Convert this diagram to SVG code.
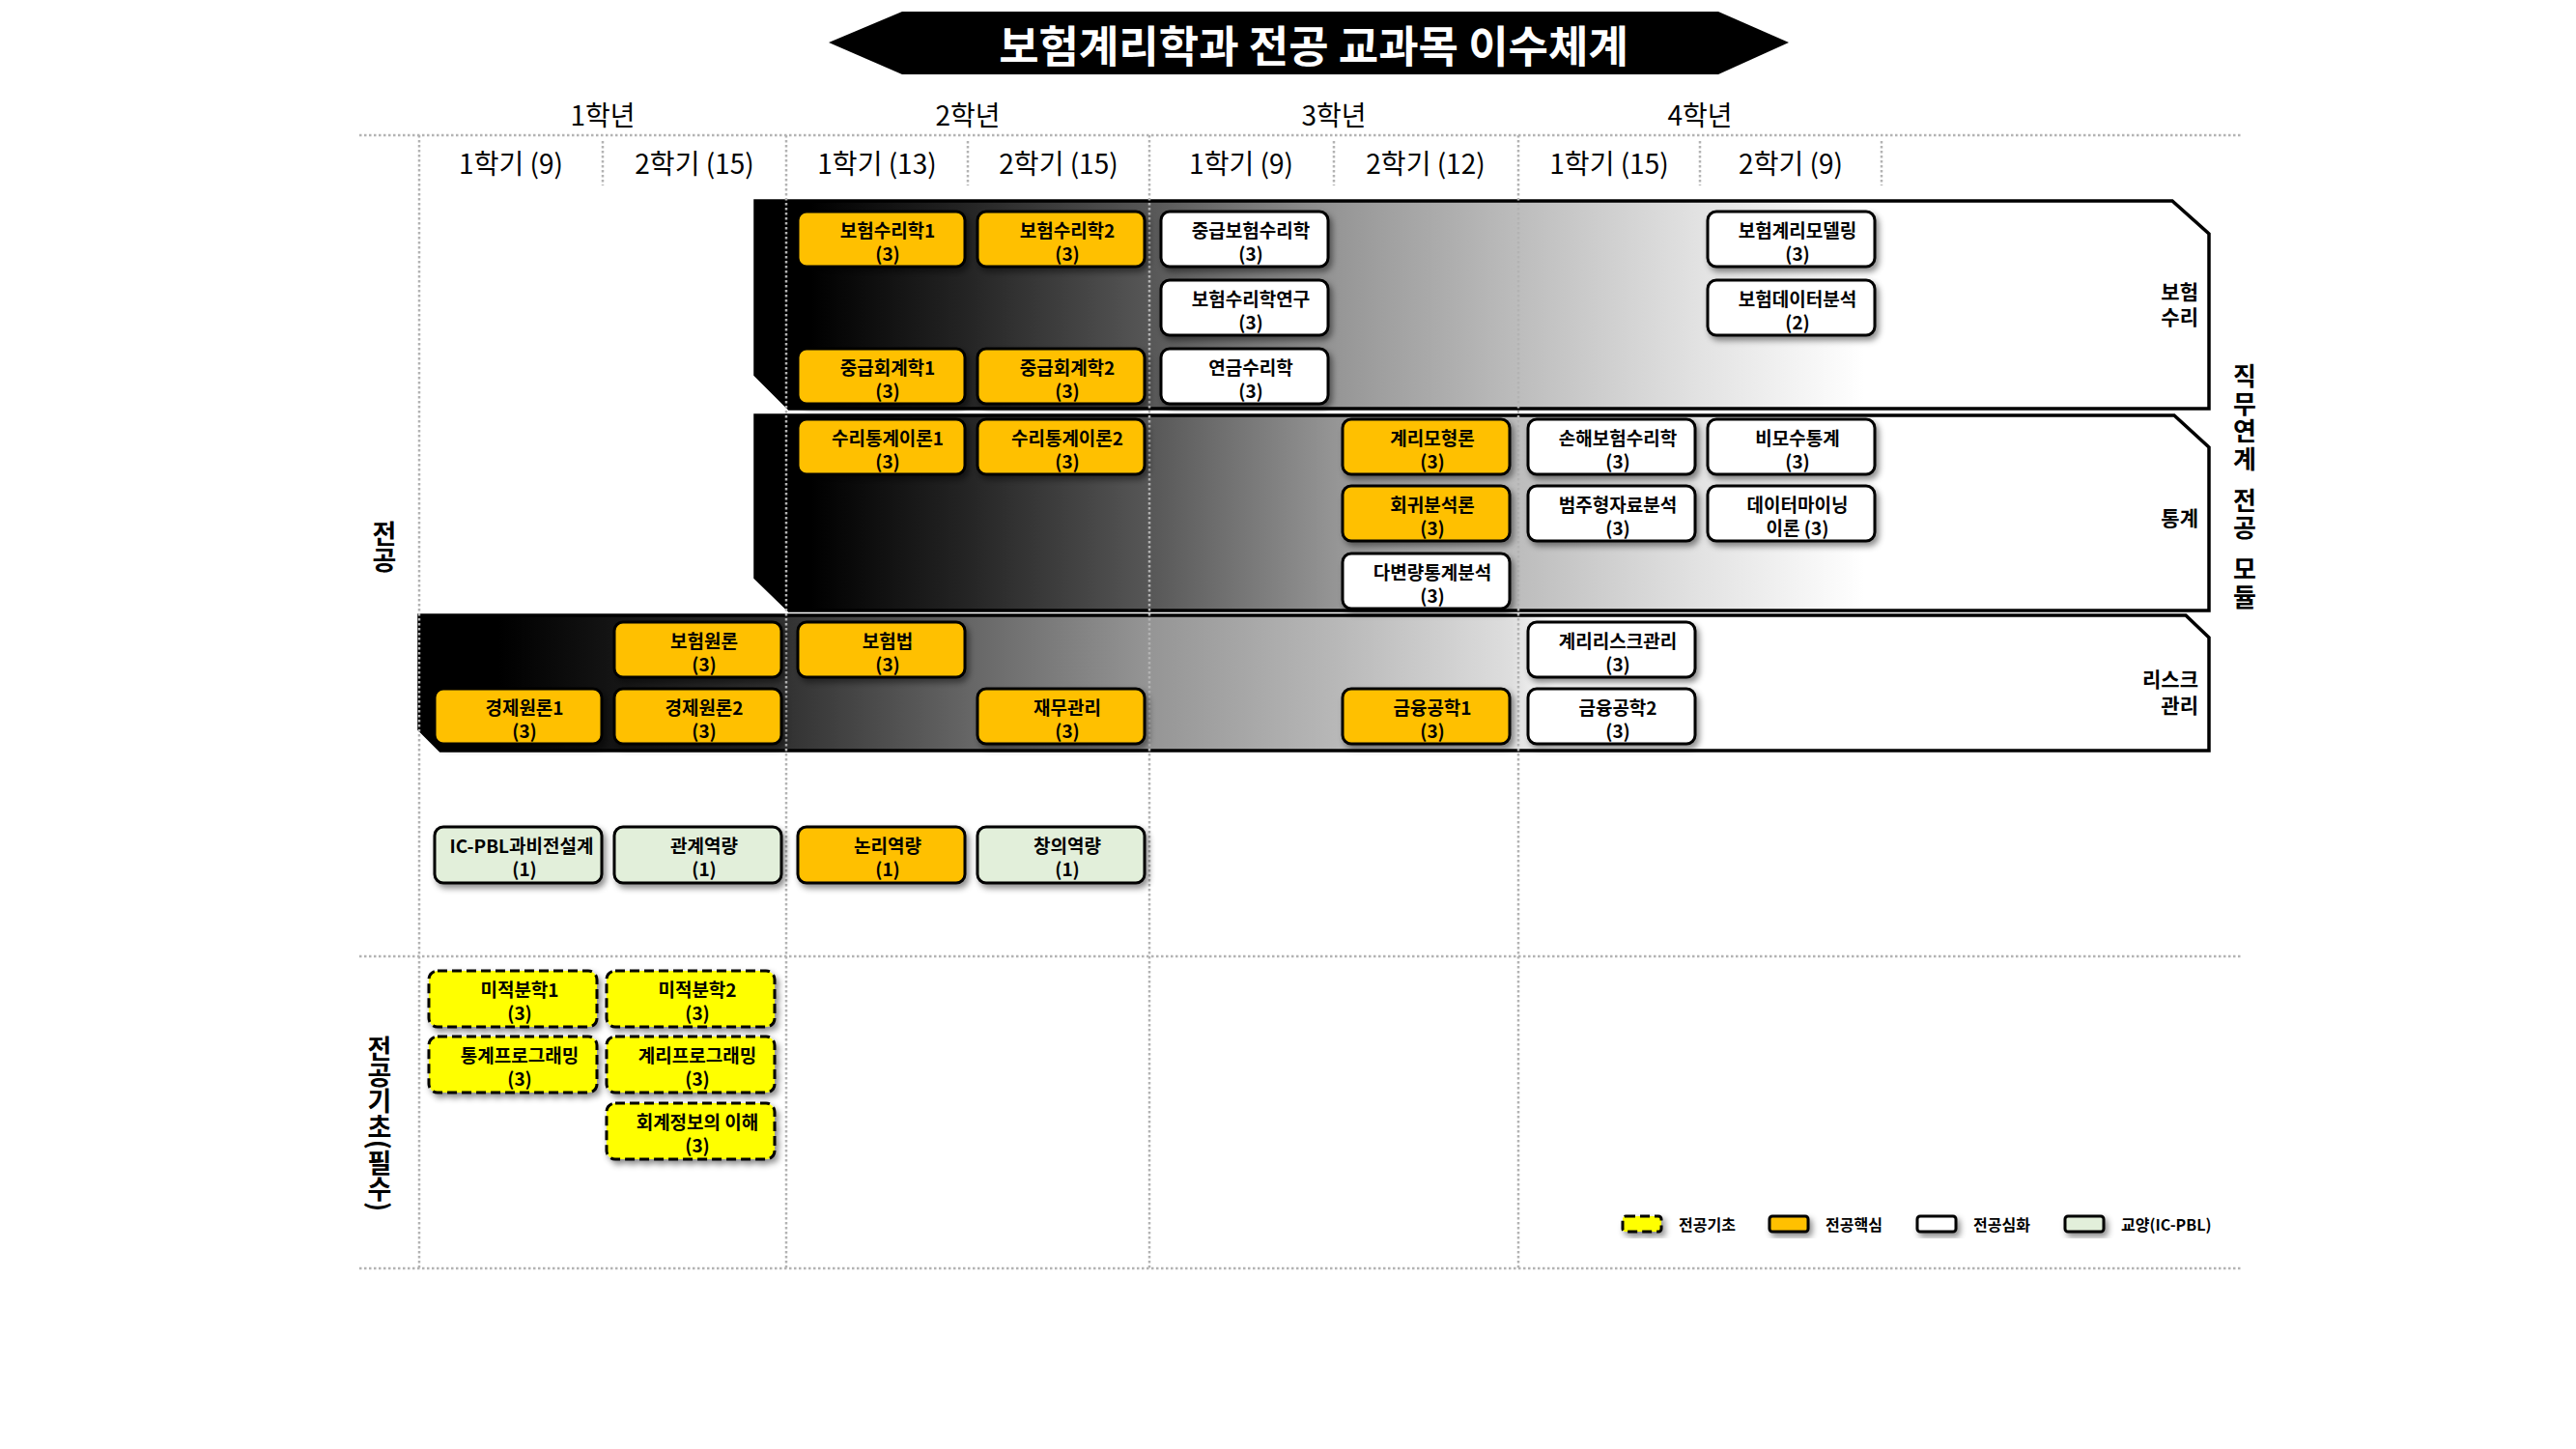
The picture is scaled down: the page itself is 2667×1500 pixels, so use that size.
<svg xmlns="http://www.w3.org/2000/svg" width="2667" height="1500" viewBox="0 0 2667 1500">
<defs>
<style>
text{font-family:"Noto Sans CJK KR","Noto Sans",sans-serif;fill:#000;}
.hdr{font-size:28px;text-anchor:middle;dominant-baseline:central;}
.bt{font-size:19px;font-weight:bold;text-anchor:middle;dominant-baseline:central;}
.lbl{font-size:21px;font-weight:bold;text-anchor:end;dominant-baseline:central;}
.vl{font-size:27px;font-weight:bold;writing-mode:vertical-rl;text-anchor:middle;}
.vr{font-size:26px;font-weight:bold;writing-mode:vertical-rl;text-anchor:middle;letter-spacing:2.5px;word-spacing:6px;}
.lg{font-size:16px;font-weight:bold;dominant-baseline:central;}
.grid{stroke:#b3b3b3;stroke-width:2.5;stroke-dasharray:2.5 2.5;fill:none;}
.band{stroke:#000;stroke-width:3.5;stroke-linejoin:miter;}
.bx{stroke:#000;stroke-width:3;}
.core{fill:#FFC000;}
.adv{fill:#FFFFFF;}
.lib{fill:#E2EFDA;}
.base{fill:#FFFF00;stroke-dasharray:10 5;}
</style>
<linearGradient id="g12" gradientUnits="userSpaceOnUse" x1="782" y1="0" x2="1930" y2="0">
<stop offset="0" stop-color="#000"/>
<stop offset="0.05" stop-color="#000"/>
<stop offset="0.19" stop-color="#242424"/>
<stop offset="0.356" stop-color="#575757"/>
<stop offset="0.525" stop-color="#969696"/>
<stop offset="0.686" stop-color="#bcbcbc"/>
<stop offset="0.85" stop-color="#e2e2e2"/>
<stop offset="1" stop-color="#fff"/>
</linearGradient>
<linearGradient id="g3" gradientUnits="userSpaceOnUse" x1="434" y1="0" x2="1610" y2="0">
<stop offset="0" stop-color="#000"/>
<stop offset="0.07" stop-color="#000"/>
<stop offset="0.326" stop-color="#333"/>
<stop offset="0.485" stop-color="#666"/>
<stop offset="0.643" stop-color="#959595"/>
<stop offset="0.808" stop-color="#b8b8b8"/>
<stop offset="0.962" stop-color="#dedede"/>
<stop offset="1" stop-color="#fff"/>
</linearGradient>
<filter id="sh" x="-20%" y="-30%" width="150%" height="170%">
<feDropShadow dx="3" dy="4" stdDeviation="3" flood-color="#000" flood-opacity="0.45"/>
</filter>
</defs>
<rect x="0" y="0" width="2667" height="1500" fill="#fff"/>

<g id="title">
<polygon points="858,44 934,12 1779,12 1852,44 1779,77 934,77" fill="#000"/>
<text x="1360" y="45" style="font-size:45px;font-weight:bold;fill:#fff;text-anchor:middle;dominant-baseline:central;">보험계리학과 전공 교과목 이수체계</text>
</g>

<g id="header">
<text class="hdr" x="624" y="118">1학년</text>
<text class="hdr" x="1002" y="118">2학년</text>
<text class="hdr" x="1381" y="118">3학년</text>
<text class="hdr" x="1760" y="118">4학년</text>
<text class="hdr" x="529" y="168">1학기 (9)</text>
<text class="hdr" x="719" y="168">2학기 (15)</text>
<text class="hdr" x="908" y="168">1학기 (13)</text>
<text class="hdr" x="1096" y="168">2학기 (15)</text>
<text class="hdr" x="1285" y="168">1학기 (9)</text>
<text class="hdr" x="1476" y="168">2학기 (12)</text>
<text class="hdr" x="1666" y="168">1학기 (15)</text>
<text class="hdr" x="1854" y="168">2학기 (9)</text>
</g>

<g id="bands">
<g id="band-actuarial">
<path class="band" fill="url(#g12)" d="M782,208 H2249 L2287,242 V423 H817 L782,388 Z"/>
<text class="lbl" x="2276" y="301">보험</text>
<text class="lbl" x="2276" y="327">수리</text>
</g>
<g id="band-statistics">
<path class="band" fill="url(#g12)" d="M782,430 H2251 L2287,463 V632 H817 L782,598 Z"/>
<text class="lbl" x="2276" y="535">통계</text>
</g>
<g id="band-risk">
<path class="band" fill="url(#g3)" d="M434,637 H2263 L2287,660 V777 H456 L434,755 Z"/>
<text class="lbl" x="2276" y="702">리스크</text>
<text class="lbl" x="2276" y="729">관리</text>
</g>
</g>

<g id="grid">
<line class="grid" x1="372" y1="140" x2="2320" y2="140"/>
<line class="grid" x1="372" y1="990" x2="2320" y2="990"/>
<line class="grid" x1="372" y1="1313" x2="2320" y2="1313"/>
<line class="grid" x1="434" y1="140" x2="434" y2="1313"/>
<line class="grid" x1="814" y1="140" x2="814" y2="1313"/>
<line class="grid" x1="1190" y1="140" x2="1190" y2="1313"/>
<line class="grid" x1="1572" y1="140" x2="1572" y2="1313"/>
<line class="grid" x1="624" y1="146" x2="624" y2="192"/>
<line class="grid" x1="1002" y1="146" x2="1002" y2="192"/>
<line class="grid" x1="1381" y1="146" x2="1381" y2="192"/>
<line class="grid" x1="1760" y1="146" x2="1760" y2="192"/>
<line class="grid" x1="1948" y1="146" x2="1948" y2="192"/>
</g>

<g id="side-labels">
<text class="vl" x="398" y="566">전공</text>
<text class="vl" x="393" y="1163">전공기초(필수)</text>
<text class="vr" x="2324" y="505">직무연계 전공 모듈</text>
</g>

<g id="connectors"></g>

<g id="nodes">
<g id="n-act1"><rect class="bx core" filter="url(#sh)" x="826" y="219" width="173" height="57" rx="9"/><text class="bt" x="919" y="237">보험수리학1</text><text class="bt" x="919" y="261">(3)</text></g>
<g id="n-act2"><rect class="bx core" filter="url(#sh)" x="1012" y="219" width="173" height="57" rx="9"/><text class="bt" x="1105" y="237">보험수리학2</text><text class="bt" x="1105" y="261">(3)</text></g>
<g id="n-interact"><rect class="bx adv" filter="url(#sh)" x="1202" y="219" width="173" height="57" rx="9"/><text class="bt" x="1295" y="237">중급보험수리학</text><text class="bt" x="1295" y="261">(3)</text></g>
<g id="n-actmodel"><rect class="bx adv" filter="url(#sh)" x="1768" y="219" width="173" height="57" rx="9"/><text class="bt" x="1861" y="237">보험계리모델링</text><text class="bt" x="1861" y="261">(3)</text></g>
<g id="n-actres"><rect class="bx adv" filter="url(#sh)" x="1202" y="290" width="173" height="57" rx="9"/><text class="bt" x="1295" y="308">보험수리학연구</text><text class="bt" x="1295" y="332">(3)</text></g>
<g id="n-insdata"><rect class="bx adv" filter="url(#sh)" x="1768" y="290" width="173" height="57" rx="9"/><text class="bt" x="1861" y="308">보험데이터분석</text><text class="bt" x="1861" y="332">(2)</text></g>
<g id="n-acc1"><rect class="bx core" filter="url(#sh)" x="826" y="361" width="173" height="57" rx="9"/><text class="bt" x="919" y="379">중급회계학1</text><text class="bt" x="919" y="403">(3)</text></g>
<g id="n-acc2"><rect class="bx core" filter="url(#sh)" x="1012" y="361" width="173" height="57" rx="9"/><text class="bt" x="1105" y="379">중급회계학2</text><text class="bt" x="1105" y="403">(3)</text></g>
<g id="n-pension"><rect class="bx adv" filter="url(#sh)" x="1202" y="361" width="173" height="57" rx="9"/><text class="bt" x="1295" y="379">연금수리학</text><text class="bt" x="1295" y="403">(3)</text></g>

<g id="n-mstat1"><rect class="bx core" filter="url(#sh)" x="826" y="434" width="173" height="57" rx="9"/><text class="bt" x="919" y="452">수리통계이론1</text><text class="bt" x="919" y="476">(3)</text></g>
<g id="n-mstat2"><rect class="bx core" filter="url(#sh)" x="1012" y="434" width="173" height="57" rx="9"/><text class="bt" x="1105" y="452">수리통계이론2</text><text class="bt" x="1105" y="476">(3)</text></g>
<g id="n-actmodels"><rect class="bx core" filter="url(#sh)" x="1390" y="434" width="173" height="57" rx="9"/><text class="bt" x="1483" y="452">계리모형론</text><text class="bt" x="1483" y="476">(3)</text></g>
<g id="n-nonlife"><rect class="bx adv" filter="url(#sh)" x="1582" y="434" width="173" height="57" rx="9"/><text class="bt" x="1675" y="452">손해보험수리학</text><text class="bt" x="1675" y="476">(3)</text></g>
<g id="n-nonpar"><rect class="bx adv" filter="url(#sh)" x="1768" y="434" width="173" height="57" rx="9"/><text class="bt" x="1861" y="452">비모수통계</text><text class="bt" x="1861" y="476">(3)</text></g>
<g id="n-regr"><rect class="bx core" filter="url(#sh)" x="1390" y="503" width="173" height="57" rx="9"/><text class="bt" x="1483" y="521">회귀분석론</text><text class="bt" x="1483" y="545">(3)</text></g>
<g id="n-categ"><rect class="bx adv" filter="url(#sh)" x="1582" y="503" width="173" height="57" rx="9"/><text class="bt" x="1675" y="521">범주형자료분석</text><text class="bt" x="1675" y="545">(3)</text></g>
<g id="n-mining"><rect class="bx adv" filter="url(#sh)" x="1768" y="503" width="173" height="57" rx="9"/><text class="bt" x="1861" y="521">데이터마이닝</text><text class="bt" x="1861" y="545">이론 (3)</text></g>
<g id="n-multivar"><rect class="bx adv" filter="url(#sh)" x="1390" y="573" width="173" height="57" rx="9"/><text class="bt" x="1483" y="591">다변량통계분석</text><text class="bt" x="1483" y="615">(3)</text></g>

<g id="n-insprin"><rect class="bx core" filter="url(#sh)" x="636" y="644" width="173" height="57" rx="9"/><text class="bt" x="729" y="662">보험원론</text><text class="bt" x="729" y="686">(3)</text></g>
<g id="n-inslaw"><rect class="bx core" filter="url(#sh)" x="826" y="644" width="173" height="57" rx="9"/><text class="bt" x="919" y="662">보험법</text><text class="bt" x="919" y="686">(3)</text></g>
<g id="n-erm"><rect class="bx adv" filter="url(#sh)" x="1582" y="644" width="173" height="57" rx="9"/><text class="bt" x="1675" y="662">계리리스크관리</text><text class="bt" x="1675" y="686">(3)</text></g>
<g id="n-econ1"><rect class="bx core" filter="url(#sh)" x="450" y="713" width="173" height="57" rx="9"/><text class="bt" x="543" y="731">경제원론1</text><text class="bt" x="543" y="755">(3)</text></g>
<g id="n-econ2"><rect class="bx core" filter="url(#sh)" x="636" y="713" width="173" height="57" rx="9"/><text class="bt" x="729" y="731">경제원론2</text><text class="bt" x="729" y="755">(3)</text></g>
<g id="n-finance"><rect class="bx core" filter="url(#sh)" x="1012" y="713" width="173" height="57" rx="9"/><text class="bt" x="1105" y="731">재무관리</text><text class="bt" x="1105" y="755">(3)</text></g>
<g id="n-fe1"><rect class="bx core" filter="url(#sh)" x="1390" y="713" width="173" height="57" rx="9"/><text class="bt" x="1483" y="731">금융공학1</text><text class="bt" x="1483" y="755">(3)</text></g>
<g id="n-fe2"><rect class="bx adv" filter="url(#sh)" x="1582" y="713" width="173" height="57" rx="9"/><text class="bt" x="1675" y="731">금융공학2</text><text class="bt" x="1675" y="755">(3)</text></g>

<g id="n-icpbl"><rect class="bx lib" filter="url(#sh)" x="450" y="856" width="173" height="58" rx="9"/><text class="bt" x="540" y="874">IC-PBL과비전설계</text><text class="bt" x="543" y="898">(1)</text></g>
<g id="n-relation"><rect class="bx lib" filter="url(#sh)" x="636" y="856" width="173" height="58" rx="9"/><text class="bt" x="729" y="874">관계역량</text><text class="bt" x="729" y="898">(1)</text></g>
<g id="n-logic"><rect class="bx core" filter="url(#sh)" x="826" y="856" width="173" height="58" rx="9"/><text class="bt" x="919" y="874">논리역량</text><text class="bt" x="919" y="898">(1)</text></g>
<g id="n-creative"><rect class="bx lib" filter="url(#sh)" x="1012" y="856" width="173" height="58" rx="9"/><text class="bt" x="1105" y="874">창의역량</text><text class="bt" x="1105" y="898">(1)</text></g>

<g id="n-calc1"><rect class="bx base" filter="url(#sh)" x="444" y="1005" width="174" height="58" rx="9"/><text class="bt" x="538" y="1023">미적분학1</text><text class="bt" x="538" y="1047">(3)</text></g>
<g id="n-calc2"><rect class="bx base" filter="url(#sh)" x="628" y="1005" width="174" height="58" rx="9"/><text class="bt" x="722" y="1023">미적분학2</text><text class="bt" x="722" y="1047">(3)</text></g>
<g id="n-statprog"><rect class="bx base" filter="url(#sh)" x="444" y="1073" width="174" height="58" rx="9"/><text class="bt" x="538" y="1091">통계프로그래밍</text><text class="bt" x="538" y="1115">(3)</text></g>
<g id="n-actprog"><rect class="bx base" filter="url(#sh)" x="628" y="1073" width="174" height="58" rx="9"/><text class="bt" x="722" y="1091">계리프로그래밍</text><text class="bt" x="722" y="1115">(3)</text></g>
<g id="n-accinfo"><rect class="bx base" filter="url(#sh)" x="628" y="1142" width="174" height="58" rx="9"/><text class="bt" x="722" y="1160">회계정보의 이해</text><text class="bt" x="722" y="1184">(3)</text></g>
</g>

<g id="legend">
<rect class="bx base" filter="url(#sh)" x="1680" y="1259" width="40" height="16" rx="3"/>
<text class="lg" x="1738" y="1267">전공기초</text>
<rect class="bx core" filter="url(#sh)" x="1832" y="1259" width="40" height="16" rx="3"/>
<text class="lg" x="1890" y="1267">전공핵심</text>
<rect class="bx adv" filter="url(#sh)" x="1985" y="1259" width="40" height="16" rx="3"/>
<text class="lg" x="2043" y="1267">전공심화</text>
<rect class="bx lib" filter="url(#sh)" x="2138" y="1259" width="40" height="16" rx="3"/>
<text class="lg" x="2196" y="1267">교양(IC-PBL)</text>
</g>
</svg>
